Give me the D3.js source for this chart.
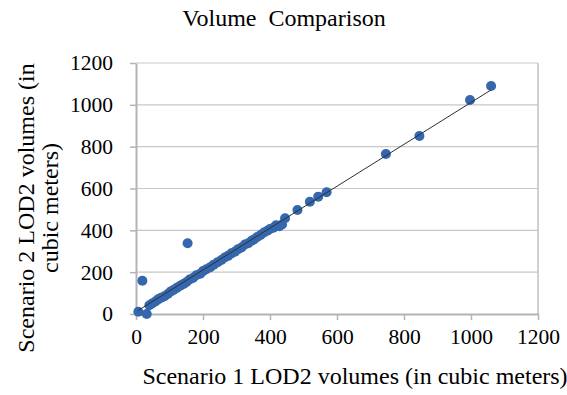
<!DOCTYPE html>
<html>
<head>
<meta charset="utf-8">
<script src="https://cdn.jsdelivr.net/npm/d3@7"></script>
<style>
  body { margin: 0; background: #fff; }
  svg text { font-family: "Liberation Serif", "Times New Roman", serif; fill: #000; }
</style>
</head>
<body>
<svg width="567" height="395"></svg>
<script>
// scenario 1 volumes (x) and scenario 2 volumes (y)
var scenario1 = [7, 32, 19, 154,
  40, 48, 58, 66, 75, 85, 95, 104, 112, 122, 132, 142, 150, 160, 170, 180,
  192, 200, 210, 222, 232, 244, 255, 265, 275, 285, 295, 305, 315, 325, 335,
  345, 352, 362, 372, 382, 392, 400, 410, 418, 428, 436, 445, 482, 519, 544,
  569, 746, 846, 997, 1060];
var scenario2 = [11, 0, 159, 338,
  42, 50, 60, 70, 78, 85, 96, 108, 115, 125, 135, 144, 152, 165, 172, 185,
  193, 205, 214, 224, 236, 248, 258, 270, 278, 290, 298, 310, 318, 332, 338,
  350, 356, 368, 378, 390, 398, 406, 412, 424, 420, 428, 458, 497, 537, 561,
  582, 765, 851, 1023, 1090];
var tickValues = [0, 200, 400, 600, 800, 1000, 1200];

var svg = d3.select('svg');
var margin = {top: 63, right: 29, bottom: 81, left: 136};
var width = 567 - margin.left - margin.right;
var height = 395 - margin.top - margin.bottom;
var g = svg.append('g')
    .attr('transform', 'translate(' + margin.left + ',' + margin.top + ')');

var x = d3.scaleLinear().domain([0, 1200]).range([0, width]);
var y = d3.scaleLinear().domain([0, 1200]).range([height, 0]);

// gridlines
g.append('g')
  .selectAll('line')
  .data(tickValues.slice(1))
  .enter().append('line')
  .attr('x1', 0)
  .attr('x2', width)
  .attr('y1', function(d) { return y(d); })
  .attr('y2', function(d) { return y(d); })
  .attr('stroke', '#c8c8c8')
  .attr('stroke-width', 1.2);

// frame right side
g.append('line')
  .attr('x1', width).attr('x2', width)
  .attr('y1', 0).attr('y2', height)
  .attr('stroke', '#c0c0c0')
  .attr('stroke-width', 1.5);

var xAxis = d3.axisBottom(x).tickValues(tickValues).tickFormat(d3.format('d'))
  .tickSizeInner(6).tickSizeOuter(0).tickPadding(9);
var yAxis = d3.axisLeft(y).tickValues(tickValues).tickFormat(d3.format('d'))
  .tickSizeInner(6).tickSizeOuter(0).tickPadding(17);

var gx = g.append('g')
  .attr('transform', 'translate(0,' + height + ')')
  .call(xAxis);
var gy = g.append('g')
  .call(yAxis);

[gx, gy].forEach(function(ax) {
  ax.select('.domain').attr('stroke', '#b4b4b4').attr('stroke-width', 2);
  ax.selectAll('.tick line').attr('stroke', '#b4b4b4').attr('stroke-width', 1.5);
  ax.selectAll('.tick text')
    .style('font-family', '"Liberation Serif", "Times New Roman", serif')
    .style('font-size', '21.5px')
    .style('fill', '#000');
});

// linear trendline (least squares)
var n = scenario1.length;
var mx = d3.mean(scenario1), my = d3.mean(scenario2);
var sxy = 0, sxx = 0;
for (var i = 0; i < n; i++) {
  sxy += (scenario1[i] - mx) * (scenario2[i] - my);
  sxx += (scenario1[i] - mx) * (scenario1[i] - mx);
}
var slope = sxy / sxx;
var intercept = my - slope * mx;
var x0 = d3.min(scenario1), x1 = d3.max(scenario1);

var points = scenario1.map(function(v, i) { return [v, scenario2[i]]; });

g.selectAll('circle')
  .data(points)
  .enter().append('circle')
  .attr('cx', function(d) { return x(d[0]); })
  .attr('cy', function(d) { return y(d[1]); })
  .attr('r', 5)
  .attr('fill', '#3467ad');

g.append('line')
  .attr('x1', x(x0)).attr('y1', y(slope * x0 + intercept))
  .attr('x2', x(x1)).attr('y2', y(slope * x1 + intercept))
  .attr('stroke', '#303030')
  .attr('stroke-width', 1);

// titles
svg.append('text')
  .attr('x', 284)
  .attr('y', 26)
  .attr('text-anchor', 'middle')
  .style('font-size', '24px')
  .style('word-spacing', '6px')
  .text('Volume Comparison');

svg.append('text')
  .attr('x', 355)
  .attr('y', 384)
  .attr('text-anchor', 'middle')
  .style('font-size', '24px')
  .text('Scenario 1 LOD2 volumes (in cubic meters)');

var yTitle = svg.append('text')
  .attr('transform', 'translate(34,208) rotate(-90)')
  .attr('text-anchor', 'middle')
  .style('font-size', '24px');
yTitle.append('tspan').attr('x', 0).attr('y', 0).text('Scenario 2 LOD2 volumes (in');
yTitle.append('tspan').attr('x', 0).attr('y', 24).text('cubic meters)');
</script>
</body>
</html>
